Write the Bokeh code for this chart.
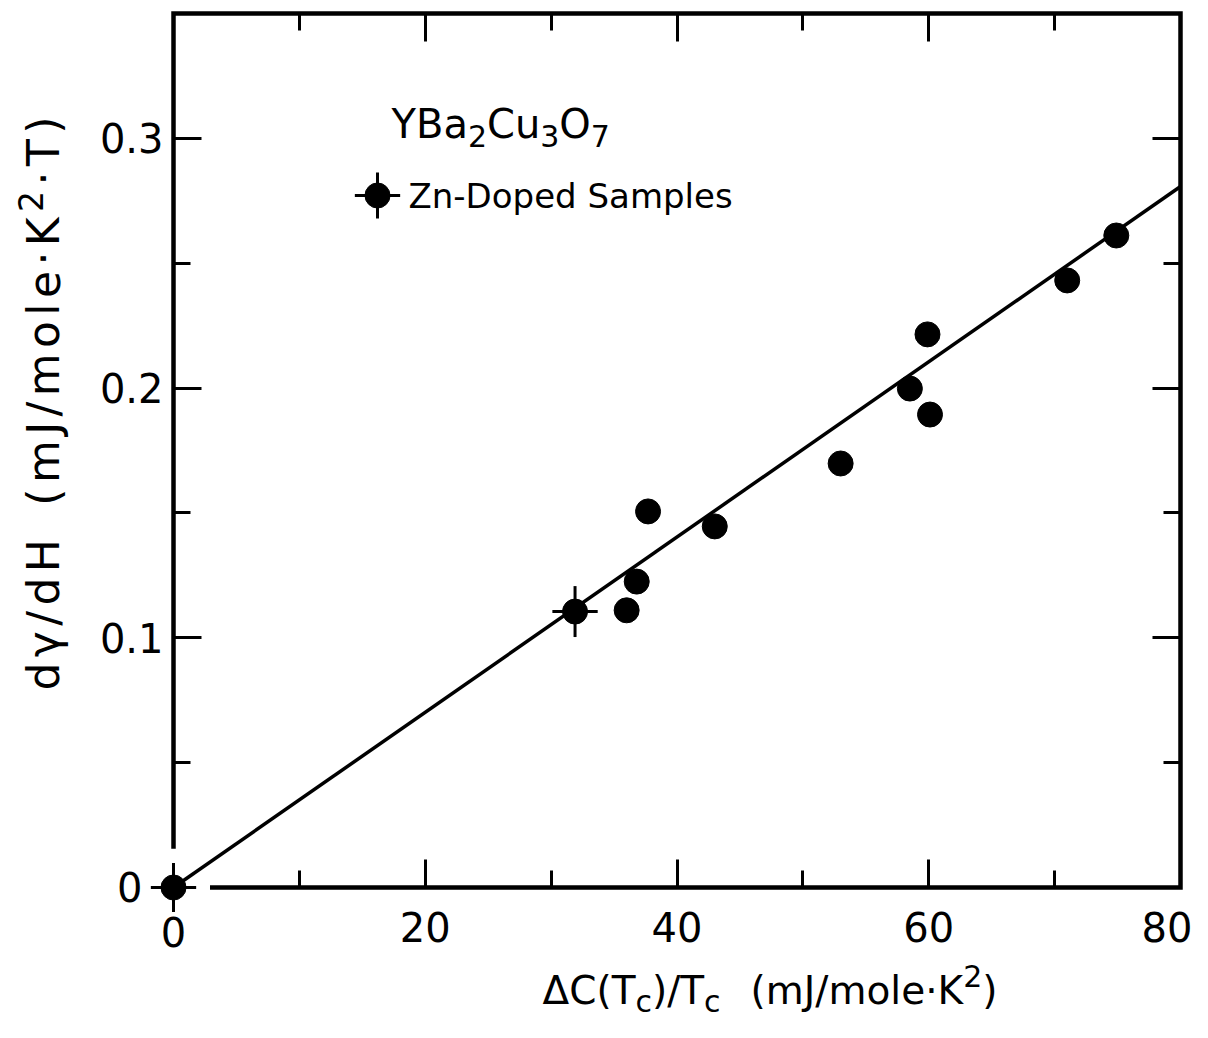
import math
from bokeh.plotting import figure
from bokeh.models import (Label, FixedTicker, LinearAxis, Range1d, ColumnDataSource,
                          CustomLabelingPolicy)
from bokeh.embed import file_html
from bokeh.resources import INLINE

# ---------------- data ----------------
dC_Tc = [0.0, 31.9, 36.0, 36.8, 37.7, 43.0, 53.0, 58.5, 59.9, 60.1, 71.0, 74.9]
dgamma_dH = [0.0, 0.1105, 0.111, 0.1225, 0.1506, 0.1446, 0.1698, 0.1998, 0.2215, 0.1894, 0.2431, 0.2611]
err_x = [0.0, 31.9]
err_y = [0.0, 0.1105]
x_err = [1.8, 1.8]
y_err = [0.0098, 0.0102]
fit_x = [0.0, 80.0]
fit_y = [0.0, 0.2807]
x_major = [20, 40, 60, 80]
x_minor = [10, 30, 50, 70]
y_major = [0.1, 0.2, 0.3]
y_minor = [0.05, 0.15, 0.25]

FONT = "DejaVu Sans"
W, H = 1192, 1022
# pixel position of the data origin and scale (the frame fills the whole canvas)
OX, OY = 173.0, 887.0
SX = (1180.0 - 173.0) / 80.0
SY = (887.0 - 13.0) / 0.35

p = figure(width=W, height=H, output_backend="svg", toolbar_location=None,
           x_range=Range1d(-OX / SX, (W - OX) / SX),
           y_range=Range1d(-(H - OY) / SY, OY / SY),
           x_axis_location=None, y_axis_location=None,
           min_border_left=0, min_border_right=0, min_border_top=0, min_border_bottom=0)
p.outline_line_color = None
p.grid.visible = False
p.background_fill_color = "white"
p.border_fill_color = "white"

NO_LABELS = CustomLabelingPolicy(code="""
const all = [...indices];
for (const i of all) indices.unset(i);
return indices;
""")


def axis(ticks, minor, loc, labels, standoff=10):
    ax = LinearAxis(ticker=FixedTicker(ticks=ticks, minor_ticks=minor), fixed_location=loc)
    ax.axis_line_color = None
    ax.major_tick_in = 28
    ax.major_tick_out = 0
    ax.minor_tick_in = 17
    ax.minor_tick_out = 0
    ax.major_tick_line_width = 3
    ax.minor_tick_line_width = 3
    ax.major_tick_line_color = "black"
    ax.minor_tick_line_color = "black"
    ax.major_label_text_font = FONT
    ax.major_label_text_font_size = "40px"
    ax.major_label_text_color = "black"
    ax.major_label_standoff = standoff
    if not labels:
        ax.major_label_policy = NO_LABELS
    return ax


p.add_layout(axis(x_major, x_minor, 0.0, True, 24), "below")
p.add_layout(axis(x_major, x_minor, 0.35, False), "above")
p.add_layout(axis(y_major, y_minor, 0.0, True, 10), "left")
p.add_layout(axis(y_major, y_minor, 80.0, False), "right")

# frame (with the gap around the origin, as in the reference)
p.line(x=[0, 0, 80, 80, 2.9], y=[0.0155, 0.35, 0.35, 0, 0], line_width=4.5,
       line_color="black", line_join="miter")

# fitted line
p.line(x=fit_x, y=fit_y, line_width=3.5, line_color="black")

# error bars
p.segment(x0=[a - e for a, e in zip(err_x, x_err)], y0=err_y,
          x1=[a + e for a, e in zip(err_x, x_err)], y1=err_y, line_width=3, line_color="black")
p.segment(x0=err_x, y0=[b - e for b, e in zip(err_y, y_err)],
          x1=err_x, y1=[b + e for b, e in zip(err_y, y_err)], line_width=3, line_color="black")

# data points
src = ColumnDataSource(dict(x=dC_Tc, y=dgamma_dH))
p.scatter("x", "y", source=src, size=25, marker="circle", fill_color="black", line_color="black")

# legend symbol (point with error cross)
LEG_X, LEG_Y = (377 - OX) / SX, (OY - 195) / SY
p.segment(x0=[LEG_X - 1.8], y0=[LEG_Y], x1=[LEG_X + 1.8], y1=[LEG_Y], line_width=3, line_color="black")
p.segment(x0=[LEG_X], y0=[LEG_Y - 0.0092], x1=[LEG_X], y1=[LEG_Y + 0.0092], line_width=3, line_color="black")
p.scatter(x=[LEG_X], y=[LEG_Y], size=25, marker="circle", fill_color="black", line_color="black")

# ---------------- text ----------------
ADV = {' ': .318, '(': .390, ')': .390, '/': .337, '.': .318, '·': .318, '-': .361,
       'A': .684, 'B': .686, 'C': .698, 'D': .770, 'H': .752, 'J': .295, 'K': .656, 'O': .787,
       'S': .635, 'T': .611, 'Y': .611, 'Z': .685, 'a': .613, 'c': .550, 'd': .635, 'e': .615,
       'l': .278, 'm': .974, 'n': .634, 'o': .612, 'p': .635, 's': .521, 'u': .634,
       'Δ': .684, 'γ': .592}
BASE_FIX = 0.37  # observed baseline offset of Label text (in em)


def tw(s, size):
    return sum(ADV.get(ch, .636) for ch in s) * size


def put(px, py, txt, size, align="left", angle=0.0):
    """Place text with its alphabetic baseline start at reference pixel (px, py)."""
    dx, dy = px - OX, OY - py
    if angle:
        dx -= BASE_FIX * size
    else:
        dy += BASE_FIX * size
    p.add_layout(Label(x=0, y=0, x_offset=dx, y_offset=dy, text=txt, text_font=FONT,
                       text_font_size=f"{size}px", text_color="black", text_align=align,
                       text_baseline="alphabetic", angle=angle))


def rich(pieces, px, py, vertical=False, track=0.0):
    """pieces: (text, size, baseline shift up) or (None, gap_px, 0)."""
    pos = 0.0
    for txt, size, shift in pieces:
        if txt is None:
            pos += size
            continue
        chunks = list(txt) if track else [txt]
        for ch in chunks:
            if vertical:
                put(px - shift, py - pos, ch, size, angle=math.pi / 2)
            else:
                put(px + pos, py - shift, ch, size)
            pos += tw(ch, size) + track


# zero tick labels at the origin
put(173, 946, "0", 40, align="center")
put(142, 901, "0", 40, align="right")

# x-axis title
rich([("ΔC(T", 39, 0), ("c", 30, -8), (")/T", 39, 0), ("c", 30, -8), (None, 30, 0),
      ("(mJ/mole·K", 39, 0), ("2", 30, 17), (")", 39, 0)], 542, 1004)

# y-axis title (wide-spaced lettering as in the reference)
rich([("dγ/dH", 44, 0), (None, 28, 0), ("(mJ/mole·K", 44, 0), ("2", 33, 17), ("·T)", 44, 0)],
     59, 690, vertical=True, track=5.4)

# legend title and label
rich([("YBa", 40, 0), ("2", 30, -9), ("Cu", 40, 0), ("3", 30, -9), ("O", 40, 0), ("7", 30, -9)], 391, 138)
put(408, 208, "Zn-Doped Samples", 34)

open("out.html", "w").write(file_html(p, INLINE))
